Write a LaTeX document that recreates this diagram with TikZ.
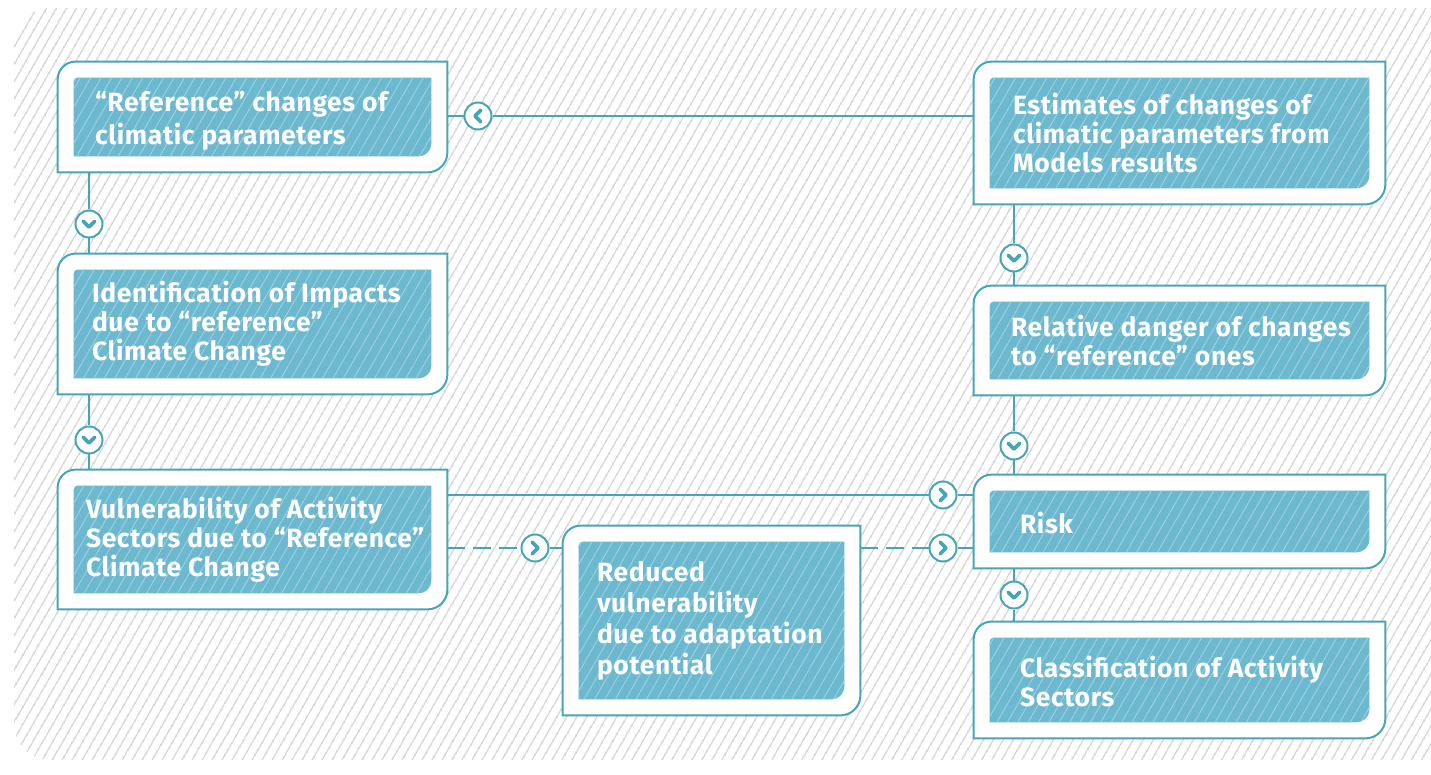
\documentclass[tikz,border=0pt]{standalone}
\usepackage{fontspec}
\setmainfont[LetterSpace = 2.5]{Fira Sans}
\usetikzlibrary{patterns.meta}

\definecolor{frameteal}{HTML}{46A6B6}
\definecolor{panelblue}{HTML}{6CB8CF}
\definecolor{panelline}{HTML}{9BCFDF}
\definecolor{hatchgray}{HTML}{CDCDCD}

\tikzset{
	stage/.style = {inner sep = 0, minimum width = 194.5pt},
	frame/.style = {draw = frameteal, fill = white, line width = 1pt},
	panel/.style = {preaction = {fill = panelblue}, pattern = {Lines[angle = 60, distance = 4.5pt, line width = 0.5pt]}, pattern color = panelline},
	caption/.style = {anchor = west, text = white, align = left, inner sep = 0, font = \bfseries\fontsize{13.2}{14.5}\selectfont},
	link/.style = {frameteal, line width = 1pt},
	dashed link/.style = {link, dash pattern = on 9pt off 4pt},
	chevron/.style = {frameteal, line width = 1.8pt, line cap = round, line join = round},
	joint/.style = {circle, draw = frameteal, fill = white, line width = 1pt, minimum size = 13.5pt, inner sep = 0,
		path picture = {\draw [chevron, shift = {(path picture bounding box.center)}] plot coordinates {#1};}},
	jdown/.style = {joint = {(-2.9pt,1.4pt) (0pt,-1.5pt) (2.9pt,1.4pt)}},
	jleft/.style = {joint = {(1.4pt,2.9pt) (-1.5pt,0pt) (1.4pt,-2.9pt)}},
	jright/.style = {joint = {(-1.4pt,2.9pt) (1.5pt,0pt) (-1.4pt,-2.9pt)}}
}

% white frame, round corners top left and bottom right, hatched panel inside
\newcommand\stageframe[1]{%
	\path [frame] (#1.north east) -- ([yshift = 10pt] #1.south east) arc [start angle = 0, end angle = -90, radius = 10pt] -- (#1.south west) -- ([yshift = -9pt] #1.north west) arc [start angle = 180, end angle = 90, radius = 9pt] -- cycle;
	\path [panel] ([shift = {(-8pt,-8pt)}] #1.north east) -- ([shift = {(-8pt,14.5pt)}] #1.south east) arc [start angle = 0, end angle = -90, radius = 6.5pt] -- ([shift = {(8pt,8pt)}] #1.south west) -- ([shift = {(8pt,-10pt)}] #1.north west) arc [start angle = 180, end angle = 90, radius = 2pt] -- cycle;
}

\begin{document}
\begin{tikzpicture} [x = 0.5pt, y = -0.5pt]
	\useasboundingbox (0,0) rectangle (1431,775);
	\fill [pattern = {Lines[angle = 60, distance = 4pt, line width = 0.7pt]}, pattern color = hatchgray, rounded corners = 18pt] (14,8) rectangle (1470,760);

	% left column
	\node [stage, minimum height = 55pt] (refchg) at (252.5,117) {};
	\node [stage, minimum height = 70pt] (idimp) at (252.5,324) {};
	\node [stage, minimum height = 69.5pt] (vuln) at (252.5,539.5) {};
	\node [stage, minimum width = 148.5pt, minimum height = 94.5pt] (reduced) at (711.5,620.5) {};
	% right column
	\node [stage, minimum width = 205.5pt, minimum height = 71pt] (estim) at (1179.5,133) {};
	\node [stage, minimum width = 205.5pt, minimum height = 54.5pt] (danger) at (1179.5,340.5) {};
	\node [stage, minimum width = 205.5pt, minimum height = 46.5pt] (risk) at (1179.5,521.5) {};
	\node [stage, minimum width = 205.5pt, minimum height = 58pt] (classif) at (1179.5,680) {};

	\foreach \n in {refchg, idimp, vuln, reduced, estim, danger, risk, classif}
		\stageframe{\n};

	\node [caption, font = \bfseries\fontsize{13.2}{16.5}\selectfont] (refchg-txt) at ([shift = {(18.5pt,-2pt)}] refchg.west) {“Reference” changes of\\climatic parameters};
	\node [caption] (idimp-txt) at ([xshift = 17pt] idimp.west) {Identification of Impacts\\due to “reference”\\Climate Change};
	\node [caption] (vuln-txt) at ([xshift = 14pt] vuln.west) {Vulnerability of Activity\\Sectors due to “Reference”\\Climate Change};
	\node [caption, font = \bfseries\fontsize{13.2}{15.5}\selectfont] (reduced-txt) at ([xshift = 17pt] reduced.west) {Reduced\\vulnerability\\due to adaptation\\potential};
	\node [caption] (estim-txt) at ([xshift = 19.5pt] estim.west) {Estimates of changes of\\climatic parameters from\\Models results};
	\node [caption] (danger-txt) at ([xshift = 18.5pt] danger.west) {Relative danger of changes\\to “reference” ones};
	\node [caption] (risk-txt) at ([shift = {(23pt,-1pt)}] risk.west) {Risk};
	\node [caption] (classif-txt) at ([shift = {(23pt,-1pt)}] classif.west) {Classification of Activity\\Sectors};

	% chevron joints on the links
	\node [jdown] (jref) at (89,224) {};
	\node [jdown] (jimp) at (89,440) {};
	\node [jdown] (jest) at (1014,258) {};
	\node [jdown] (jdng) at (1014,446) {};
	\node [jdown] (jrsk) at (1014,595) {};
	\node [jleft] (jback) at (478,116) {};
	\node [jright] (jrisk) at (943,495) {};
	\node [jright] (jadapt) at (535,548) {};
	\node [jright] (jred) at (943,548) {};

	\draw [link] (refchg.south -| jref) -- (jref) -- (idimp.north -| jref);
	\draw [link] (idimp.south -| jimp) -- (jimp) -- (vuln.north -| jimp);
	\draw [link] (estim.south -| jest) -- (jest) -- (danger.north -| jest);
	\draw [link] (danger.south -| jdng) -- (jdng) -- (risk.north -| jdng);
	\draw [link] (risk.south -| jrsk) -- (jrsk) -- (classif.north -| jrsk);
	\draw [link] (estim.west |- jback) -- (jback) -- (refchg.east |- jback);
	\draw [link] (vuln.east |- jrisk) -- (jrisk) -- (risk.west |- jrisk);
	\draw [dashed link] (vuln.east |- jadapt) -- (jadapt);
	\draw [link] (jadapt) -- (reduced.west |- jadapt);
	\draw [dashed link] (reduced.east |- jred) -- (jred);
	\draw [link] (jred) -- (risk.west |- jred);
\end{tikzpicture}
\end{document}
